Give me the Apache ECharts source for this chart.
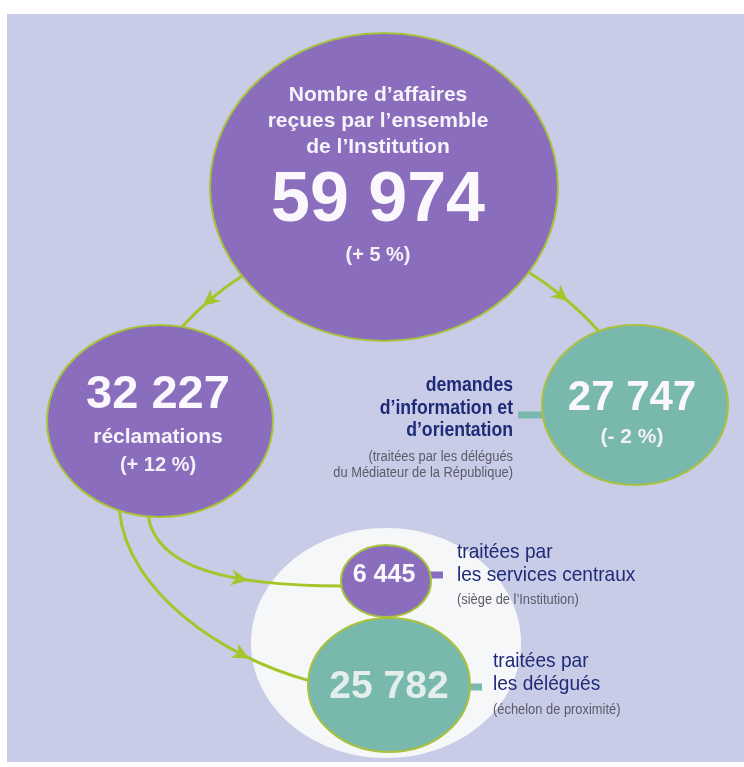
<!DOCTYPE html>
<html>
<head>
<meta charset="utf-8">
<script src="https://cdn.jsdelivr.net/npm/echarts@6/dist/echarts.min.js"></script>
<style>
    html, body { margin: 0; padding: 0; background: #fff; }
    #main { width: 744px; height: 767px; }
</style>
</head>
<body>
<div id="main"></div>
<script>
// données
var nodeValues = [59974, 32227, 27747, 6445, 25782];
var nodeChanges = ['(+ 5 %)', '(+ 12 %)', '(- 2 %)', '', ''];
var nodeCaptions = ['Nombre d’affaires\nreçues par l’ensemble\nde l’Institution', 'réclamations', '', '', ''];
var sideTitles = ['', '', 'demandes\nd’information et\nd’orientation', 'traitées par\nles services centraux', 'traitées par\nles délégués'];
var sideNotes = ['', '', '(traitées par les délégués\ndu Médiateur de la République)', '(siège de l’Institution)', '(échelon de proximité)'];
var links = [[0, 1], [0, 2], [1, 3], [1, 4]];

var PURPLE = '#8a6dbc', TEAL = '#79b9ad', LIME = '#a5c52a', NAVY = '#1f2b78', GREY = '#5b5b68';
var FONT = '"Liberation Sans", Arial, sans-serif';

// mise en page (coordonnées des axes = pixels)
var nodeLayout = [
    {cx: 384, cy: 187, rx: 174, ry: 154, fill: PURPLE, tx: -6, valueDy: 15, valueSize: 70, capDy: -66, capSize: 21, capLh: 26, chDy: 68, chSize: 20},
    {cx: 160, cy: 421, rx: 113, ry: 96, fill: PURPLE, tx: -2, valueDy: -26, valueSize: 47, capDy: 16, capSize: 21, capLh: 24, chDy: 44, chSize: 20},
    {cx: 635, cy: 405, rx: 93, ry: 80, fill: TEAL, tx: -3, valueDy: -7, valueSize: 42, chDy: 32, chSize: 21, side: 'left', gap: 29, titleDy: 3, titleBold: true, noteDy: 60, barDy: 10},
    {cx: 386, cy: 581, rx: 45, ry: 36, fill: PURPLE, tx: -2, valueDy: -6, valueSize: 25, side: 'right', gap: 26, titleDy: -17, noteDy: 19, barDy: -6},
    {cx: 389, cy: 685, rx: 81, ry: 67, fill: TEAL, tx: 0, valueDy: 2, valueSize: 39, valueColor: '#e4efed', side: 'right', gap: 23, titleDy: -12, noteDy: 25, barDy: 2}
];
var haloLayout = {cx: 386, cy: 643, rx: 135, ry: 115};
// angles sur les ellipses, directions de départ / arrivée, poignées, position de la flèche
var linkLayout = [
    {a0: 144.7, a1: -78.7, d0: 147, d1: 132, h0: 25, h1: 25, t: 0.5},
    {a0: 33.7, a1: -113, d0: 30, d1: 50, h0: 25, h1: 25, t: 0.43},
    {a0: 96, a1: 172, d0: 80, d1: 0, h0: 50, h1: 120, t: 0.66},
    {a0: 111, a1: 184, d0: 85, d1: 15, h0: 80, h1: 90, t: 0.74}
];

function fmt(v) {
    return String(v).replace(/\B(?=(\d{3})+(?!\d))/g, ' ');
}

function rad(a) {
    return a * Math.PI / 180;
}

function txt(x, y, text, o) {
    return {
        type: 'text', x: x, y: y, scaleX: o.scaleX || 1,
        style: {
            text: text, fill: o.fill, fontSize: o.size, fontWeight: o.weight || 'bold',
            fontFamily: FONT, align: o.align || 'center', verticalAlign: 'middle',
            lineHeight: o.lh || o.size * 1.2
        }
    };
}

var chart = echarts.init(document.getElementById('main'));

var nodeData = nodeValues.map(function (v, i) {
    var l = nodeLayout[i];
    return [l.cx, l.cy, l.rx, l.ry, v];
});
var linkData = links.map(function (lk, i) {
    return [lk[0], lk[1], i];
});

var option = {
    backgroundColor: '#ffffff',
    animation: false,
    graphic: [{
        type: 'rect', z: -10,
        shape: {x: 7, y: 14, width: 737, height: 748},
        style: {fill: '#c8cce6'}
    }],
    grid: {left: 0, right: 0, top: 0, bottom: 0},
    xAxis: {type: 'value', min: 0, max: 744, show: false},
    yAxis: {type: 'value', min: 0, max: 767, inverse: true, show: false},
    series: [
        {
            // halo blanc
            type: 'custom', z: 1,
            data: [[haloLayout.cx, haloLayout.cy, haloLayout.rx, haloLayout.ry]],
            renderItem: function (params, api) {
                var c = api.coord([api.value(0), api.value(1)]);
                var e = api.coord([api.value(0) + api.value(2), api.value(1) + api.value(3)]);
                return {
                    type: 'ellipse',
                    shape: {cx: c[0], cy: c[1], rx: Math.abs(e[0] - c[0]), ry: Math.abs(e[1] - c[1])},
                    style: {fill: '#f6f7f9'}
                };
            }
        },
        {
            // flèches
            type: 'custom', z: 2,
            data: linkData,
            renderItem: function (params, api) {
                var a = nodeLayout[api.value(0)], b = nodeLayout[api.value(1)], L = linkLayout[api.value(2)];
                var p0 = api.coord([a.cx + a.rx * Math.cos(rad(L.a0)), a.cy + a.ry * Math.sin(rad(L.a0))]);
                var p3 = api.coord([b.cx + b.rx * Math.cos(rad(L.a1)), b.cy + b.ry * Math.sin(rad(L.a1))]);
                var p1 = [p0[0] + L.h0 * Math.cos(rad(L.d0)), p0[1] + L.h0 * Math.sin(rad(L.d0))];
                var p2 = [p3[0] - L.h1 * Math.cos(rad(L.d1)), p3[1] - L.h1 * Math.sin(rad(L.d1))];
                var t = L.t, m = 1 - t;
                var px = m * m * m * p0[0] + 3 * m * m * t * p1[0] + 3 * m * t * t * p2[0] + t * t * t * p3[0];
                var py = m * m * m * p0[1] + 3 * m * m * t * p1[1] + 3 * m * t * t * p2[1] + t * t * t * p3[1];
                var dx = 3 * m * m * (p1[0] - p0[0]) + 6 * m * t * (p2[0] - p1[0]) + 3 * t * t * (p3[0] - p2[0]);
                var dy = 3 * m * m * (p1[1] - p0[1]) + 6 * m * t * (p2[1] - p1[1]) + 3 * t * t * (p3[1] - p2[1]);
                var len = Math.sqrt(dx * dx + dy * dy);
                dx /= len; dy /= len;
                var nx = -dy, ny = dx;
                var head = [
                    [px + dx * 10, py + dy * 10],
                    [px - dx * 7 + nx * 8, py - dy * 7 + ny * 8],
                    [px - dx * 2, py - dy * 2],
                    [px - dx * 7 - nx * 8, py - dy * 7 - ny * 8]
                ];
                return {
                    type: 'group',
                    children: [
                        {
                            type: 'bezierCurve',
                            shape: {x1: p0[0], y1: p0[1], cpx1: p1[0], cpy1: p1[1], cpx2: p2[0], cpy2: p2[1], x2: p3[0], y2: p3[1]},
                            style: {stroke: LIME, lineWidth: 3, fill: null}
                        },
                        {type: 'polygon', shape: {points: head}, style: {fill: LIME}}
                    ]
                };
            }
        },
        {
            // bulles et textes
            type: 'custom', z: 3,
            data: nodeData,
            renderItem: function (params, api) {
                var i = params.dataIndex, l = nodeLayout[i];
                var c = api.coord([api.value(0), api.value(1)]);
                var e = api.coord([api.value(0) + api.value(2), api.value(1) + api.value(3)]);
                var rx = Math.abs(e[0] - c[0]), ry = Math.abs(e[1] - c[1]);
                var kids = [];
                if (l.side === 'left') {
                    kids.push({type: 'rect', shape: {x: c[0] - rx - 24, y: c[1] + l.barDy - 3.5, width: 28, height: 7}, style: {fill: l.fill}});
                } else if (l.side === 'right') {
                    kids.push({type: 'rect', shape: {x: c[0] + rx - 4, y: c[1] + l.barDy - 3.5, width: 16, height: 7}, style: {fill: l.fill}});
                }
                kids.push({
                    type: 'ellipse',
                    shape: {cx: c[0], cy: c[1], rx: rx, ry: ry},
                    style: {fill: l.fill, stroke: '#a9c23e', lineWidth: 2}
                });
                var x = c[0] + l.tx;
                kids.push(txt(x, c[1] + l.valueDy, fmt(api.value(4)), {fill: l.valueColor || '#faf8fc', size: l.valueSize}));
                if (nodeCaptions[i]) {
                    kids.push(txt(x, c[1] + l.capDy, nodeCaptions[i], {fill: '#f6f3fa', size: l.capSize, lh: l.capLh}));
                }
                if (nodeChanges[i]) {
                    kids.push(txt(x, c[1] + l.chDy, nodeChanges[i], {fill: '#f3f0f8', size: l.chSize}));
                }
                if (l.side) {
                    var left = l.side === 'left';
                    var sx = left ? c[0] - rx - l.gap : c[0] + rx + l.gap;
                    var al = left ? 'right' : 'left';
                    kids.push(txt(sx, c[1] + l.titleDy, sideTitles[i], {
                        fill: NAVY, size: 21, lh: l.titleBold ? 22.5 : 23, align: al,
                        weight: l.titleBold ? 'bold' : 'normal', scaleX: l.titleBold ? 0.84 : 0.91
                    }));
                    kids.push(txt(sx, c[1] + l.noteDy, sideNotes[i], {
                        fill: GREY, size: 14, lh: 16, align: al, weight: 'normal', scaleX: 0.92
                    }));
                }
                return {type: 'group', children: kids};
            }
        }
    ]
};

chart.setOption(option);
</script>
</body>
</html>
